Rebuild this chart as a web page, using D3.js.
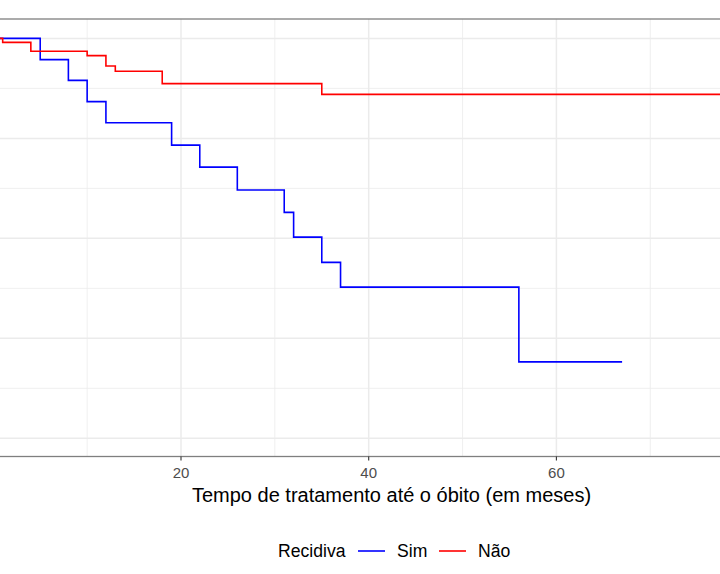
<!DOCTYPE html>
<html>
<head>
<meta charset="utf-8">
<script src="https://cdn.jsdelivr.net/npm/d3@7"></script>
<style>
  html, body { margin: 0; padding: 0; background: #fff; }
  svg { display: block; font-family: "Liberation Sans", Arial, sans-serif; }
</style>
</head>
<body>
<div id="chart"></div>
<script>
// ── Data: Kaplan-Meier steps ───────────────────────────────
const simTimes   = [0, 5, 8, 10, 12, 19, 22, 26, 31, 32, 35, 37, 56, 67];
const simSurv    = [1, 0.947, 0.895, 0.842, 0.789, 0.733, 0.678, 0.621, 0.565, 0.503, 0.440, 0.378, 0.191, 0.191];

const naoTimes   = [0, 1, 4, 10, 12, 13, 18, 35, 82];
const naoSurv    = [1, 0.990, 0.968, 0.957, 0.931, 0.918, 0.887, 0.860, 0.860];

const xTicks      = [20, 40, 60];
const xMajorGrid  = [0, 20, 40, 60, 80];
const xMinorGrid  = [10, 30, 50, 70];
const yMajorGrid  = [0, 0.25, 0.5, 0.75, 1];
const yMinorGrid  = [0.125, 0.375, 0.625, 0.875];

const legendTitle = "Recidiva";
const groups      = ["Sim", "Não"];
const groupColors = ["#0000ff", "#ff0000"];
const xTitle      = "Tempo de tratamento até o óbito (em meses)";

const W = 720, H = 574;
const panel = { left: -20, right: 740, top: 19, bottom: 456.5 };

const x = d3.scaleLinear().domain([0, 80]).range([-6.7, 744.1]);
const y = d3.scaleLinear().domain([0, 1]).range([438.3, 38.4]);

const svg = d3.select("#chart").append("svg")
  .attr("width", W).attr("height", H);

// ── Grid ───────────────────────────────────────────────────
const grid = svg.append("g");
grid.selectAll("line.xmin").data(xMinorGrid).enter().append("line")
  .attr("x1", d => x(d)).attr("x2", d => x(d))
  .attr("y1", panel.top).attr("y2", panel.bottom)
  .attr("stroke", "#ebebeb").attr("stroke-width", 0.8);
grid.selectAll("line.ymin").data(yMinorGrid).enter().append("line")
  .attr("y1", d => y(d)).attr("y2", d => y(d))
  .attr("x1", panel.left).attr("x2", panel.right)
  .attr("stroke", "#ebebeb").attr("stroke-width", 0.8);
grid.selectAll("line.xmaj").data(xMajorGrid).enter().append("line")
  .attr("x1", d => x(d)).attr("x2", d => x(d))
  .attr("y1", panel.top).attr("y2", panel.bottom)
  .attr("stroke", "#ebebeb").attr("stroke-width", 1.5);
grid.selectAll("line.ymaj").data(yMajorGrid).enter().append("line")
  .attr("y1", d => y(d)).attr("y2", d => y(d))
  .attr("x1", panel.left).attr("x2", panel.right)
  .attr("stroke", "#ebebeb").attr("stroke-width", 1.5);

// ── Survival curves (step-after) ───────────────────────────
const line = d3.line()
  .x(d => x(d[0])).y(d => y(d[1]))
  .curve(d3.curveStepAfter);

const series = [
  d3.zip(simTimes, simSurv),
  d3.zip(naoTimes, naoSurv)
];

svg.append("defs").append("clipPath").attr("id", "clip")
  .append("rect")
  .attr("x", panel.left).attr("y", panel.top)
  .attr("width", panel.right - panel.left)
  .attr("height", panel.bottom - panel.top);

svg.append("g").attr("clip-path", "url(#clip)")
  .selectAll("path").data(series).enter().append("path")
  .attr("d", line)
  .attr("fill", "none")
  .attr("stroke", (d, i) => groupColors[i])
  .attr("stroke-width", 1.6);

// ── Panel border (top + bottom visible) ────────────────────
svg.append("rect")
  .attr("x", panel.left).attr("y", panel.top)
  .attr("width", panel.right - panel.left)
  .attr("height", panel.bottom - panel.top)
  .attr("fill", "none")
  .attr("stroke", "#7f7f7f").attr("stroke-width", 1.3);

// ── X axis ticks and labels ────────────────────────────────
const xAxis = svg.append("g");
xAxis.selectAll("line").data(xTicks).enter().append("line")
  .attr("x1", d => x(d)).attr("x2", d => x(d))
  .attr("y1", panel.bottom).attr("y2", panel.bottom + 4)
  .attr("stroke", "#333").attr("stroke-width", 1.1);
xAxis.selectAll("text").data(xTicks).enter().append("text")
  .attr("x", d => x(d)).attr("y", 478)
  .attr("text-anchor", "middle")
  .attr("font-size", "15px").attr("fill", "#4d4d4d")
  .text(d => d);

svg.append("text")
  .attr("x", 391.5).attr("y", 502)
  .attr("text-anchor", "middle")
  .attr("font-size", "20px").attr("fill", "#000")
  .text(xTitle);

// ── Legend ────────────────────────────────────────────────
const lg = svg.append("g").attr("transform", "translate(0,557)");
lg.append("text").attr("x", 278).attr("y", 0)
  .attr("font-size", "17.6px").text(legendTitle);
const keyX = [358, 439], labX = [397, 478];
groups.forEach((g, i) => {
  lg.append("line")
    .attr("x1", keyX[i]).attr("x2", keyX[i] + 27)
    .attr("y1", -6).attr("y2", -6)
    .attr("stroke", groupColors[i]).attr("stroke-width", 1.6);
  lg.append("text").attr("x", labX[i]).attr("y", 0)
    .attr("font-size", "17.6px").text(g);
});
</script>
</body>
</html>
